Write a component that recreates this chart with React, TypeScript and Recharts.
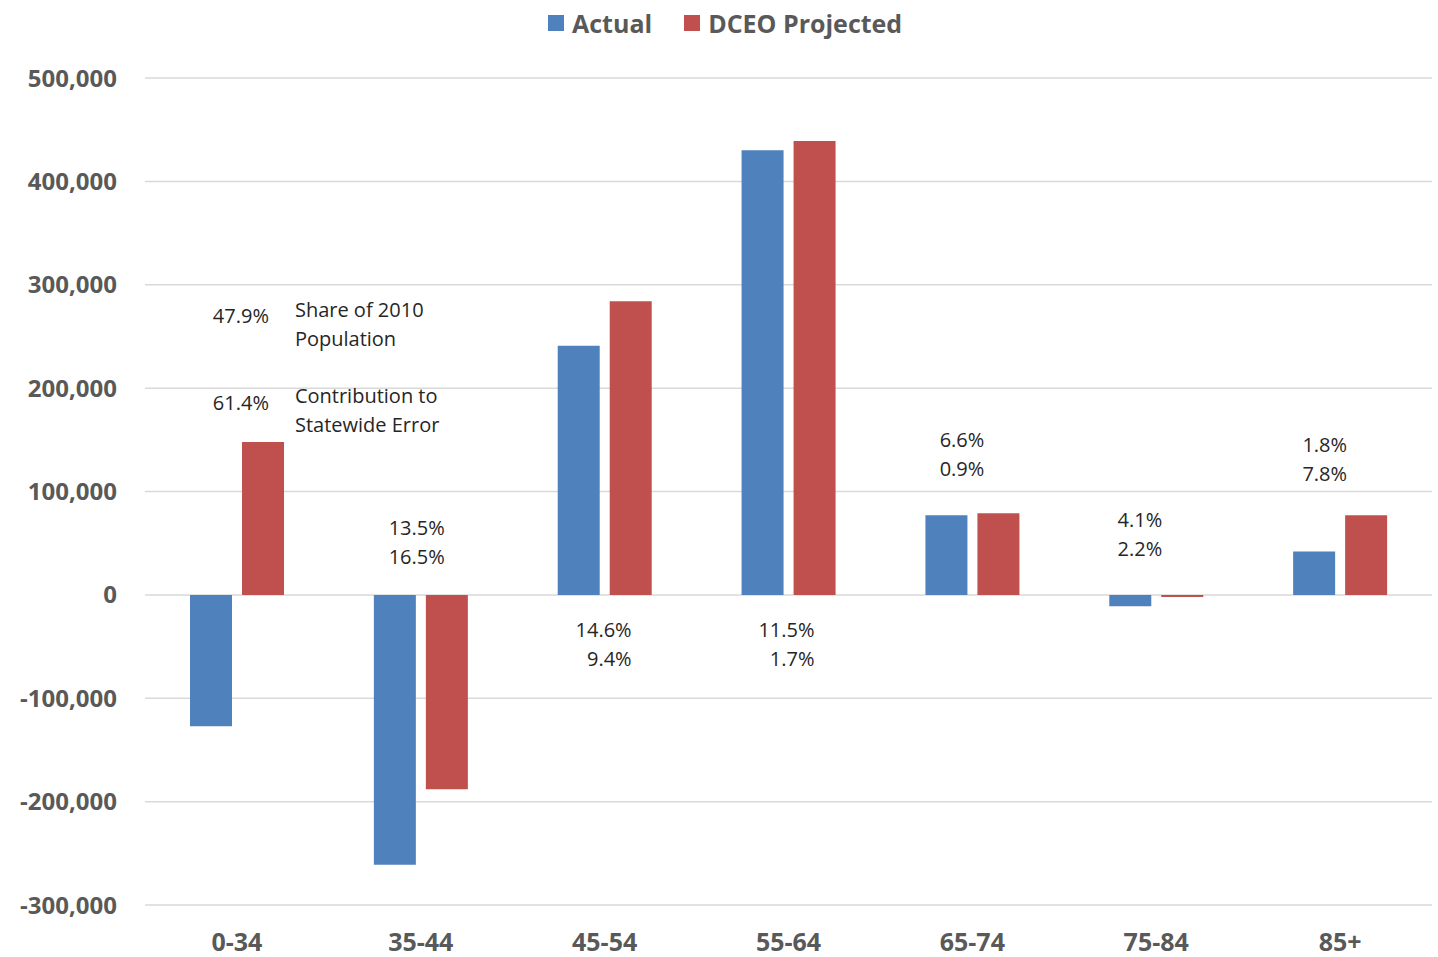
import {
  BarChart,
  Bar,
  XAxis,
  YAxis,
  CartesianGrid,
  Legend,
  ReferenceDot,
} from 'recharts'

const ageGroups = ['0-34', '35-44', '45-54', '55-64', '65-74', '75-84', '85+']
const actual = [-127000, -261000, 241000, 430000, 77000, -11000, 42000]
const dceoProjected = [148000, -188000, 284000, 439000, 79000, -2000, 77000]
const shareOf2010 = ['47.9%', '13.5%', '14.6%', '11.5%', '6.6%', '4.1%', '1.8%']
const errorContribution = ['61.4%', '16.5%', '9.4%', '1.7%', '0.9%', '2.2%', '7.8%']
const yTicks = [-300000, -200000, -100000, 0, 100000, 200000, 300000, 400000, 500000]

const BLUE = '#4F81BD'
const RED = '#C0504D'
const AXIS_TEXT = '#595959'
const NOTE_TEXT = '#262626'
const FONT = '"Open Sans", sans-serif'

// where each pair of percentages sits (y in data units, dx in px from band centre)
const notePlacement = [
  { shareY: 270000, errorY: 186000, dx: 32 },
  { shareY: 65000, errorY: 37000, dx: 24 },
  { shareY: -34000, errorY: -62000, dx: 27 },
  { shareY: -34000, errorY: -62000, dx: 26 },
  { shareY: 150000, errorY: 122000, dx: 12 },
  { shareY: 72500, errorY: 44500, dx: 6 },
  { shareY: 145000, errorY: 117000, dx: 7 },
]

const chartData = ageGroups.map((g, i) => ({
  group: g,
  actual: actual[i],
  projected: dceoProjected[i],
}))

function formatNumber(v: number) {
  return new Intl.NumberFormat('en-US').format(v)
}

function noteLabel(text: string, dx: number, anchor: 'start' | 'end' = 'end', lines?: string[]) {
  return (props: any) => {
    const vb = props.viewBox ?? {}
    const x = (vb.x ?? 0) + (vb.width ?? 0) / 2 + dx
    const y = (vb.y ?? 0) + (vb.height ?? 0) / 2
    const all = lines ?? [text]
    return (
      <text
        x={x}
        y={y}
        textAnchor={anchor}
        style={{ fontFamily: FONT, fontSize: 20, fill: NOTE_TEXT }}
      >
        {all.map((l, k) => (
          <tspan key={k} x={x} dy={k === 0 ? '0.35em' : 29}>
            {l}
          </tspan>
        ))}
      </text>
    )
  }
}

function LegendContent() {
  const items = [
    { name: 'Actual', color: BLUE },
    { name: 'DCEO Projected', color: RED },
  ]
  return (
    <div
      style={{
        display: 'flex',
        gap: 32,
        fontFamily: FONT,
        fontWeight: 700,
        fontSize: 25,
        color: AXIS_TEXT,
        whiteSpace: 'nowrap',
      }}
    >
      {items.map((it) => (
        <span key={it.name} style={{ display: 'flex', alignItems: 'center' }}>
          <span
            style={{
              display: 'inline-block',
              width: 16,
              height: 16,
              background: it.color,
              marginRight: 8,
            }}
          />
          {it.name}
        </span>
      ))}
    </div>
  )
}

export default function App() {
  return (
    <div style={{ position: 'absolute', left: 0, top: 0, width: 1438, height: 957, background: '#fff' }}>
      <BarChart
        width={1438}
        height={957}
        data={chartData}
        margin={{ top: 78, right: 6, bottom: 0, left: 0 }}
        barSize={42}
        barGap={10}
      >
        <CartesianGrid vertical={false} stroke="#d9d9d9" strokeWidth={1.5} />
        <XAxis
          dataKey="group"
          height={52}
          axisLine={false}
          tickLine={false}
          tickSize={0}
          tickMargin={28}
          interval={0}
          tick={{ fontFamily: FONT, fontSize: 25, fontWeight: 700, fill: AXIS_TEXT }}
        />
        <YAxis
          width={145}
          domain={[-300000, 500000]}
          ticks={yTicks}
          axisLine={false}
          tickLine={false}
          tickSize={0}
          tickMargin={28}
          tickFormatter={formatNumber}
          tick={{ fontFamily: FONT, fontSize: 24, fontWeight: 700, fill: AXIS_TEXT }}
        />
        <Legend
          verticalAlign="middle"
          align="center"
          content={<LegendContent />}
          wrapperStyle={{ top: 6, left: 548, width: 'auto' }}
        />
        <Bar dataKey="actual" name="Actual" fill={BLUE} isAnimationActive={false} />
        <Bar dataKey="projected" name="DCEO Projected" fill={RED} isAnimationActive={false} />
        {ageGroups.map((g, i) => (
          <ReferenceDot
            key={`s-${g}`}
            x={g}
            y={notePlacement[i].shareY}
            r={0}
            fill="none"
            stroke="none"
            label={noteLabel(shareOf2010[i], notePlacement[i].dx)}
          />
        ))}
        {ageGroups.map((g, i) => (
          <ReferenceDot
            key={`e-${g}`}
            x={g}
            y={notePlacement[i].errorY}
            r={0}
            fill="none"
            stroke="none"
            label={noteLabel(errorContribution[i], notePlacement[i].dx)}
          />
        ))}
        <ReferenceDot
          x={ageGroups[0]}
          y={275600}
          r={0}
          fill="none"
          stroke="none"
          label={noteLabel('', 58, 'start', ['Share of 2010', 'Population'])}
        />
        <ReferenceDot
          x={ageGroups[0]}
          y={192500}
          r={0}
          fill="none"
          stroke="none"
          label={noteLabel('', 58, 'start', ['Contribution to', 'Statewide Error'])}
        />
      </BarChart>
    </div>
  )
}
